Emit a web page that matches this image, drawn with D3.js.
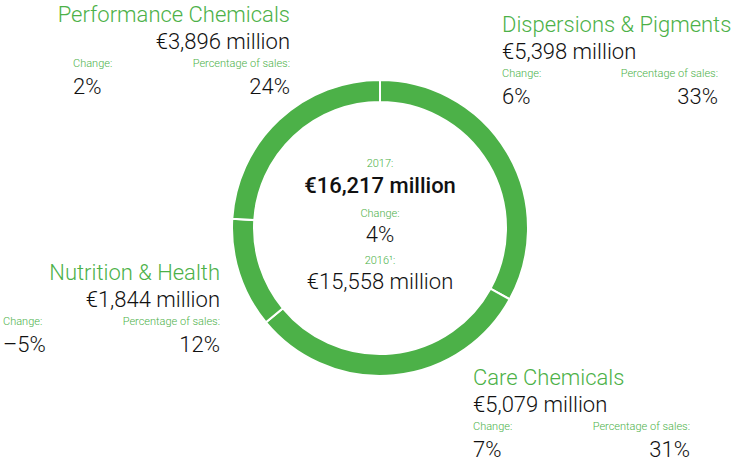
<!DOCTYPE html><html><head><meta charset="utf-8"><script src="https://cdn.jsdelivr.net/npm/d3@7"></script>
<style>body{margin:0;background:#fff}text{font-family:Roboto,"Liberation Sans",sans-serif;font-weight:300}</style></head><body>
<svg id="c" width="751" height="462"></svg>
<script>
const categories=["Dispersions & Pigments","Care Chemicals","Nutrition & Health","Performance Chemicals"];
const shares=[33,31,12,24];
const sales=["€5,398 million","€5,079 million","€1,844 million","€3,896 million"];
const changes=["6%","7%","–5%","2%"];
const green="#4cb148";
const svg=d3.select("#c");
const g=svg.append("g").attr("transform","translate(380,228)");
const pie=d3.pie().sort(null).value(d=>d)(shares);
const arc=d3.arc().innerRadius(126).outerRadius(148);
g.selectAll("path").data(pie).join("path").attr("d",arc).attr("fill",green).attr("stroke","#fff").attr("stroke-width",2);
function t(x,y,s,o){const e=svg.append("text").attr("x",x).attr("y",y).text(s).attr("font-size",o.size||22).attr("fill",o.fill||"#111").attr("text-anchor",o.anchor||"start");if(o.bold)e.style("font-weight",500);return e;}
// layout per category: [titleX, anchor, titleY, leftX, rightX]
const lay=[[502,"start",32,502,718],[473,"start",385,473,690],[220,"end",280,3,220],[290,"end",22,73,290]];
categories.forEach((c,i)=>{const [x,a,y,lx,rx]=lay[i];
 t(x,y,c,{fill:green,anchor:a});
 t(x,y+27,sales[i],{anchor:a});
 t(lx,y+45,"Change:",{size:11,fill:green});
 t(rx,y+45,"Percentage of sales:",{size:11,fill:green,anchor:"end"});
 t(lx,y+72,changes[i],{});
 t(rx,y+72,shares[i]+"%",{anchor:"end"});
});
const m={anchor:"middle"};
t(380,167,"2017:",{size:11,fill:green,anchor:"middle"});
t(380,193,"€16,217 million",{anchor:"middle",bold:true});
t(380,217,"Change:",{size:11,fill:green,anchor:"middle"});
t(380,242,"4%",m);
t(380,264,"2016¹:",{size:11,fill:green,anchor:"middle"});
t(380,289,"€15,558 million",m);
</script></body></html>
